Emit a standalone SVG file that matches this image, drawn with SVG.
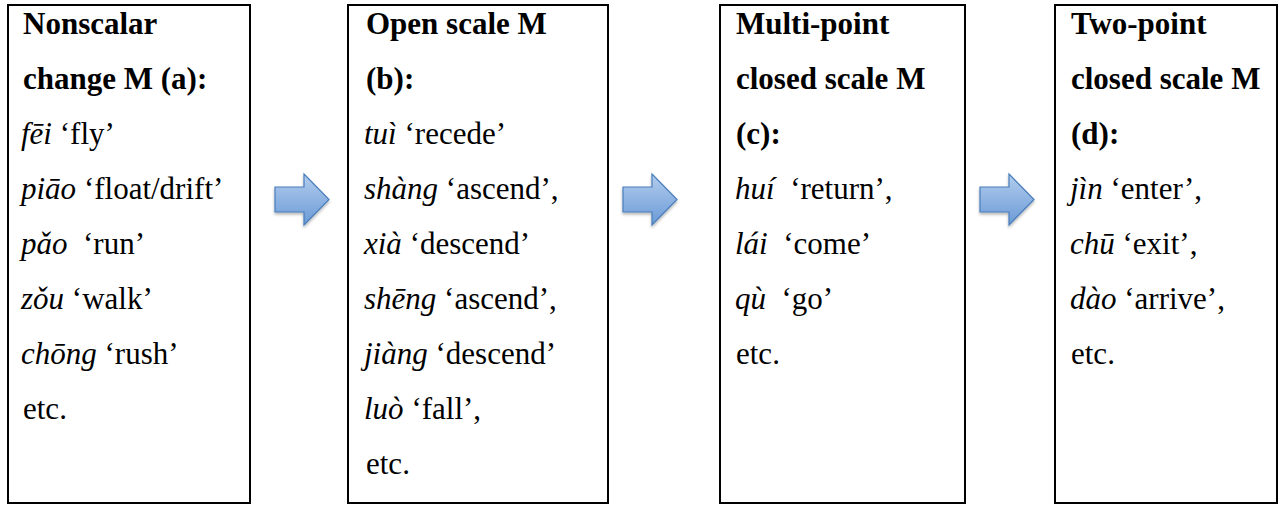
<svg xmlns="http://www.w3.org/2000/svg" xmlns:xlink="http://www.w3.org/1999/xlink" width="1286" height="506" viewBox="0 0 1286 506">
<style>
.box{fill:#fff;stroke:#000;stroke-width:2}
.t text{font-family:"Liberation Serif",LiberationSerif,Tinos,"Nimbus Roman","Nimbus Roman No9 L","DejaVu Serif","Noto Serif",serif;font-size:31px;fill:#000;white-space:pre}
.b{font-weight:bold}
.i{font-style:italic}
.arr{fill:url(#ag);stroke:#4a7ebb;stroke-width:1.2;filter:url(#sh)}
</style>
<defs>
<linearGradient id="ag" x1="0" y1="0" x2="0" y2="1">
<stop offset="0" stop-color="#b3cdee"/>
<stop offset="1" stop-color="#6a9ad6"/>
</linearGradient>
<filter id="sh" x="-20%" y="-20%" width="150%" height="160%">
<feGaussianBlur in="SourceAlpha" stdDeviation="1.5"/>
<feOffset dx="0" dy="2" result="o"/>
<feComponentTransfer><feFuncA type="linear" slope="0.3"/></feComponentTransfer>
<feMerge><feMergeNode/><feMergeNode in="SourceGraphic"/></feMerge>
</filter>
<path id="arrow" d="M0,187 H29 V174 L54,199.5 L29,225 V212 H0 Z"/>
</defs>
<rect width="1286" height="506" fill="#fff"/>

<g class="t">
<g id="node-a">
<rect class="box" x="8" y="5" width="242" height="498"/>
<text class="b" x="23" y="34">Nonscalar</text>
<text class="b" x="23" y="89">change M (a):</text>
<text x="21" y="144"><tspan class="i">fēi</tspan> ‘fly’</text>
<text x="21" y="199"><tspan class="i">piāo</tspan> ‘float/drift’</text>
<text x="21" y="254"><tspan class="i">pǎo</tspan>  ‘run’</text>
<text x="21" y="309"><tspan class="i">zǒu</tspan> ‘walk’</text>
<text x="21" y="364"><tspan class="i">chōng</tspan> ‘rush’</text>
<text x="23" y="419">etc.</text>
</g>

<g id="node-b">
<rect class="box" x="348" y="5" width="260" height="498"/>
<text class="b" x="366" y="34">Open scale M</text>
<text class="b" x="366" y="89">(b):</text>
<text x="364" y="144"><tspan class="i">tuì</tspan> ‘recede’</text>
<text x="364" y="199"><tspan class="i">shàng</tspan> ‘ascend’,</text>
<text x="364" y="254"><tspan class="i">xià</tspan> ‘descend’</text>
<text x="364" y="309"><tspan class="i">shēng</tspan> ‘ascend’,</text>
<text x="364" y="364"><tspan class="i">jiàng</tspan> ‘descend’</text>
<text x="364" y="419"><tspan class="i">luò</tspan> ‘fall’,</text>
<text x="366" y="474">etc.</text>
</g>

<g id="node-c">
<rect class="box" x="720" y="5" width="245" height="498"/>
<text class="b" x="736" y="34">Multi-point</text>
<text class="b" x="736" y="89">closed scale M</text>
<text class="b" x="736" y="144">(c):</text>
<text x="735" y="199"><tspan class="i">huí</tspan>  ‘return’,</text>
<text x="735" y="254"><tspan class="i">lái</tspan>  ‘come’</text>
<text x="735" y="309"><tspan class="i">qù</tspan>  ‘go’</text>
<text x="736" y="364">etc.</text>
</g>

<g id="node-d">
<rect class="box" x="1055" y="5" width="222" height="498"/>
<text class="b" x="1071" y="34">Two-point</text>
<text class="b" x="1071" y="89">closed scale M</text>
<text class="b" x="1071" y="144">(d):</text>
<text x="1070" y="199"><tspan class="i">jìn</tspan> ‘enter’,</text>
<text x="1070" y="254"><tspan class="i">chū</tspan> ‘exit’,</text>
<text x="1070" y="309"><tspan class="i">dào</tspan> ‘arrive’,</text>
<text x="1071" y="364">etc.</text>
</g>
</g>

<g id="connectors">
<use xlink:href="#arrow" href="#arrow" class="arr" x="275"/>
<use xlink:href="#arrow" href="#arrow" class="arr" x="623"/>
<use xlink:href="#arrow" href="#arrow" class="arr" x="980"/>
</g>
</svg>
